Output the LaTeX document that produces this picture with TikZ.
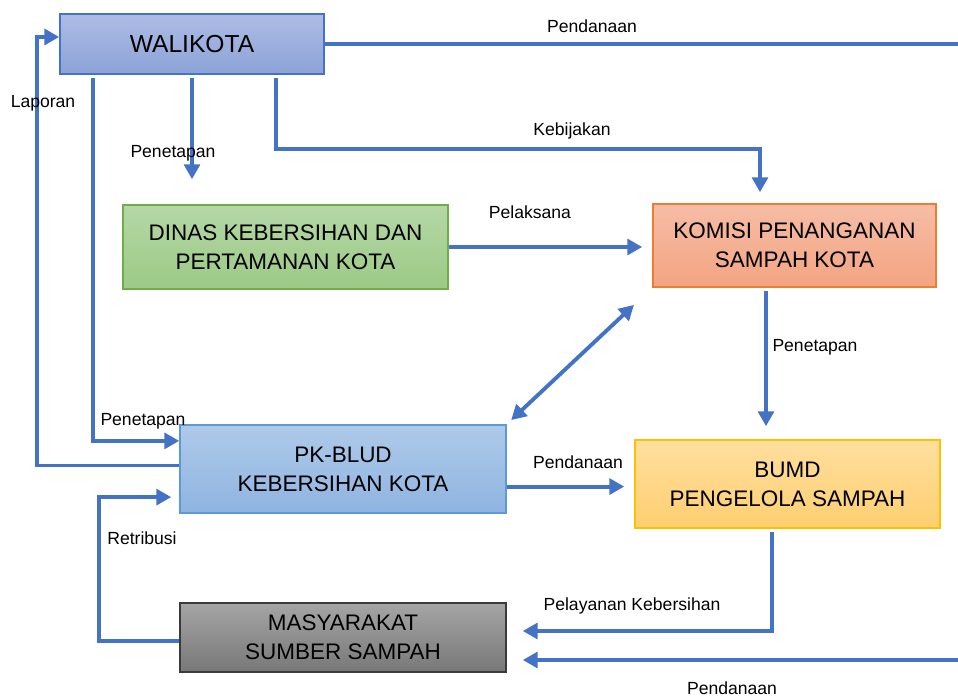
\documentclass[tikz,border=0pt]{standalone}
\usepackage{fontspec}
\setmainfont{Liberation Sans}
\usetikzlibrary{positioning, arrows.meta, calc}
\definecolor{flowcol}{HTML}{4472C4}
\definecolor{walicol}{HTML}{4472C4}
\definecolor{walitop}{HTML}{ADBCE4}
\definecolor{walibot}{HTML}{8CA3D8}
\definecolor{dinascol}{HTML}{70AD47}
\definecolor{dinastop}{HTML}{B5D7A6}
\definecolor{dinasbot}{HTML}{9CCA85}
\definecolor{komisicol}{HTML}{ED7D31}
\definecolor{komisitop}{HTML}{F6BDA6}
\definecolor{komisibot}{HTML}{F3A481}
\definecolor{pkcol}{HTML}{5B9BD5}
\definecolor{pktop}{HTML}{AECAE9}
\definecolor{pkbot}{HTML}{8FB4E1}
\definecolor{bumdcol}{HTML}{FFC000}
\definecolor{bumdtop}{HTML}{FFDE9F}
\definecolor{bumdbot}{HTML}{FDCF70}
\definecolor{masycol}{HTML}{3A3A3A}
\definecolor{masytop}{HTML}{A5A5A5}
\definecolor{masybot}{HTML}{787878}
\tikzset{
  % organisation box, colours picked by prefix
  unit/.style={rectangle, draw=#1col, top color=#1top, bottom color=#1bot,
               line width=0.9pt, align=center, inner sep=2pt, text=black,
               font=\fontsize{12.8}{16.5}\selectfont},
  % plain connector
  flow/.style={draw=flowcol, line width=2.2pt},
  % connector with a head
  flowarrow/.style={flow, -{Triangle[length=8.5pt, width=9pt]}},
  % two-way connector
  flowboth/.style={flow, {Triangle[length=8.5pt, width=9pt]}-{Triangle[length=8.5pt, width=9pt]}},
  % connector label
  tag/.style={font=\fontsize{10}{12}\selectfont, inner sep=0pt, text=black},
}

\begin{document}
\begin{tikzpicture}[x=0.02cm, y=-0.02cm]
  \useasboundingbox (0,0) rectangle (958,700);
  % boxes
  \node[unit=wali, minimum width=5.28cm, minimum height=1.2cm,
        font=\fontsize{14}{17}\selectfont] (wali) at (192,44) {WALIKOTA};
  \node[unit=dinas, minimum width=6.5cm, minimum height=1.68cm]
    (dinas) at (285.5,247) {DINAS KEBERSIHAN DAN\\PERTAMANAN KOTA};
  \node[unit=komisi, minimum width=5.66cm, minimum height=1.66cm]
    (komisi) at (794.5,245.5) {KOMISI PENANGANAN\\SAMPAH KOTA};
  \node[unit=pk, minimum width=6.52cm, minimum height=1.76cm]
    (pk) at (343,469) {PK-BLUD\\KEBERSIHAN KOTA};
  \node[unit=bumd, minimum width=6.1cm, minimum height=1.76cm]
    (bumd) at (787.5,484) {BUMD\\PENGELOLA SAMPAH};
  \node[unit=masy, minimum width=6.52cm, minimum height=1.38cm]
    (masy) at (343,637.5) {MASYARAKAT\\SUMBER SAMPAH};

  % lines leaving the picture on the right
  \coordinate (topedge) at (958,44);
  \coordinate (botedge) at (958,660);

  % connectors
  \draw[flow] (wali.east) -- (topedge);
  \draw[flowarrow] ([yshift=2pt]pk.west) -- ++(-142,0) |- ([yshift=4pt]wali.west);
  \draw[flowarrow] ([xshift=-1.98cm, yshift=-2pt]wali.south) |- ([yshift=16pt]pk.west);
  \draw[flowarrow, shorten >=0.5cm] ([yshift=-2pt]wali.south) -- (wali.south |- dinas.north);
  \draw[flowarrow, shorten >=0.22cm]
    ([xshift=1.68cm, yshift=-2pt]wali.south) -- ++(0,71) -| ([xshift=-0.69cm]komisi.north);
  \draw[flowarrow, shorten >=0.2cm] (dinas.east) -- (dinas.east -| komisi.west);
  \draw[flowboth, shorten <=0.5cm, shorten >=0.12cm] (komisi.south west) -- (pk.north east);
  \draw[flowarrow, shorten >=0.26cm]
    ([xshift=-0.57cm, yshift=-2pt]komisi.south) -- ([xshift=-0.57cm]komisi.south |- bumd.north);
  \draw[flowarrow, shorten >=0.2cm]
    ([yshift=-10pt]pk.east) -- ([yshift=-10pt]pk.east -| bumd.west);
  \draw[flowarrow, shorten >=0.32cm]
    ([xshift=-0.31cm, yshift=-2pt]bumd.south) |- ([yshift=3.7pt]masy.east);
  \draw[flowarrow, shorten >=0.16cm]
    ([yshift=-2pt]masy.west) -- ++(-80,0) |- ([yshift=-16pt]pk.west);
  \draw[flowarrow, shorten >=0.32cm] (botedge) -- (botedge -| masy.east);

  % labels
  \node[tag] (tfundtop) at (592,26) {Pendanaan};
  \node[tag] (treport) at (43,103) {Laporan};
  \node[tag] (tsetdinas) at (173,153) {Penetapan};
  \node[tag] (tpolicy) at (572,131) {Kebijakan};
  \node[tag] (texec) at (530,212) {Pelaksana};
  \node[tag] (tsetbumd) at (815,347) {Penetapan};
  \node[tag] (tsetpk) at (143,421) {Penetapan};
  \node[tag] (tfundmid) at (578,462) {Pendanaan};
  \node[tag] (tretr) at (142,538) {Retribusi};
  \node[tag] (tservice) at (632,606) {Pelayanan Kebersihan};
  \node[tag] (tfundbot) at (732,688) {Pendanaan};
\end{tikzpicture}
\end{document}
